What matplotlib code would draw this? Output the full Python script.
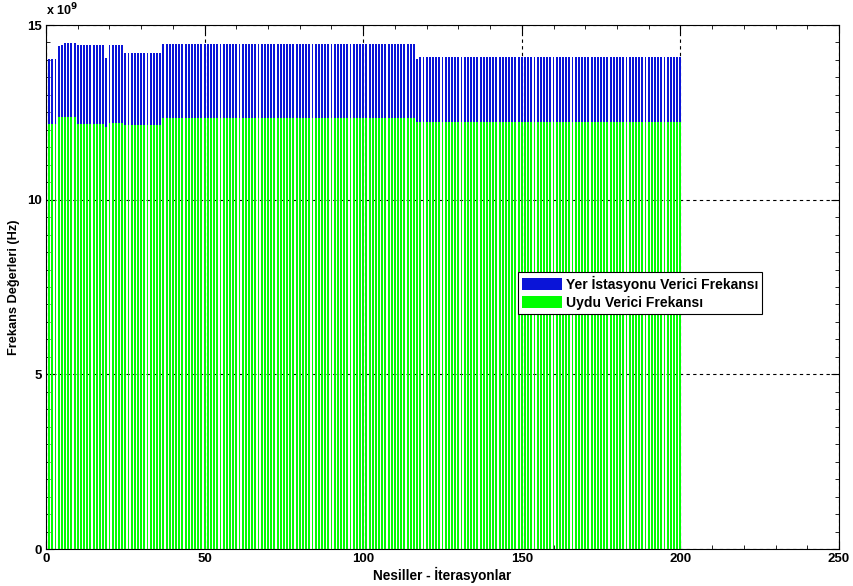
import numpy as np
import matplotlib
matplotlib.use("Agg")
import matplotlib.pyplot as plt
from matplotlib.ticker import MultipleLocator, FuncFormatter

# frequencies per iteration, in units of 1e9 Hz
yer_verici = [
    14.04, 14.04, 14.04, 14.40, 14.43, 14.48, 14.48, 14.48, 14.48, 14.43,
    14.43, 14.43, 14.43, 14.43, 14.43, 14.43, 14.43, 14.43, 14.05, 14.43,
    14.43, 14.43, 14.43, 14.43, 14.20, 14.20, 14.20, 14.20, 14.20, 14.20,
    14.20, 14.20, 14.20, 14.20, 14.20, 14.20, 14.46, 14.46, 14.46, 14.46,
    14.46, 14.46, 14.46, 14.46, 14.46, 14.46, 14.46, 14.46, 14.46, 14.46,
    14.46, 14.46, 14.46, 14.46, 14.46, 14.46, 14.46, 14.46, 14.46, 14.46,
    14.46, 14.46, 14.46, 14.46, 14.46, 14.46, 14.46, 14.46, 14.46, 14.46,
    14.46, 14.46, 14.46, 14.46, 14.46, 14.46, 14.46, 14.46, 14.46, 14.46,
    14.46, 14.46, 14.46, 14.46, 14.46, 14.46, 14.46, 14.46, 14.46, 14.46,
    14.46, 14.46, 14.46, 14.46, 14.46, 14.46, 14.46, 14.46, 14.46, 14.46,
    14.46, 14.46, 14.46, 14.46, 14.46, 14.46, 14.46, 14.46, 14.46, 14.46,
    14.46, 14.46, 14.46, 14.46, 14.46, 14.46, 14.04, 14.08, 14.08, 14.08,
    14.08, 14.08, 14.08, 14.08, 14.08, 14.08, 14.08, 14.08, 14.08, 14.08,
    14.08, 14.08, 14.08, 14.08, 14.08, 14.08, 14.08, 14.08, 14.08, 14.08,
    14.08, 14.08, 14.08, 14.08, 14.08, 14.08, 14.08, 14.08, 14.08, 14.08,
    14.08, 14.08, 14.08, 14.08, 14.08, 14.08, 14.08, 14.08, 14.08, 14.08,
    14.08, 14.08, 14.08, 14.08, 14.08, 14.08, 14.08, 14.08, 14.08, 14.08,
    14.08, 14.08, 14.08, 14.08, 14.08, 14.08, 14.08, 14.08, 14.08, 14.08,
    14.08, 14.08, 14.08, 14.08, 14.08, 14.08, 14.08, 14.08, 14.08, 14.08,
    14.08, 14.08, 14.08, 14.08, 14.08, 14.08, 14.08, 14.08, 14.08, 14.08,
]

uydu_verici = [
    12.17, 12.17, 12.17, 12.38, 12.38, 12.38, 12.38, 12.38, 12.38, 12.17,
    12.17, 12.17, 12.17, 12.17, 12.17, 12.17, 12.17, 12.17, 12.08, 12.20,
    12.20, 12.20, 12.20, 12.20, 12.13, 12.13, 12.13, 12.13, 12.13, 12.13,
    12.13, 12.13, 12.13, 12.13, 12.13, 12.13, 12.34, 12.34, 12.34, 12.34,
    12.34, 12.34, 12.34, 12.34, 12.34, 12.34, 12.34, 12.34, 12.34, 12.34,
    12.34, 12.34, 12.34, 12.34, 12.34, 12.34, 12.34, 12.34, 12.34, 12.34,
    12.34, 12.34, 12.34, 12.34, 12.34, 12.34, 12.34, 12.34, 12.34, 12.34,
    12.34, 12.34, 12.34, 12.34, 12.34, 12.34, 12.34, 12.34, 12.34, 12.34,
    12.34, 12.34, 12.34, 12.34, 12.34, 12.34, 12.34, 12.34, 12.34, 12.34,
    12.34, 12.34, 12.34, 12.34, 12.34, 12.34, 12.34, 12.34, 12.34, 12.34,
    12.34, 12.34, 12.34, 12.34, 12.34, 12.34, 12.34, 12.34, 12.34, 12.34,
    12.34, 12.34, 12.34, 12.34, 12.34, 12.34, 12.22, 12.22, 12.22, 12.22,
    12.22, 12.22, 12.22, 12.22, 12.22, 12.22, 12.22, 12.22, 12.22, 12.22,
    12.22, 12.22, 12.22, 12.22, 12.22, 12.22, 12.22, 12.22, 12.22, 12.22,
    12.22, 12.22, 12.22, 12.22, 12.22, 12.22, 12.22, 12.22, 12.22, 12.22,
    12.22, 12.22, 12.22, 12.22, 12.22, 12.22, 12.22, 12.22, 12.22, 12.22,
    12.22, 12.22, 12.22, 12.22, 12.22, 12.22, 12.22, 12.22, 12.22, 12.22,
    12.22, 12.22, 12.22, 12.22, 12.22, 12.22, 12.22, 12.22, 12.22, 12.22,
    12.22, 12.22, 12.22, 12.22, 12.22, 12.22, 12.22, 12.22, 12.22, 12.22,
    12.22, 12.22, 12.22, 12.22, 12.22, 12.22, 12.22, 12.22, 12.22, 12.22,
]

iterasyon = np.arange(1, len(yer_verici) + 1)

plt.rcParams["font.family"] = ["Liberation Sans", "DejaVu Sans"]
plt.rcParams["font.weight"] = "bold"
plt.rcParams["font.size"] = 8

fig = plt.figure(figsize=(8.54, 5.86), dpi=100)
ax = fig.add_axes([0.0539, 0.0631, 0.9285, 0.8942])

ax.set_axisbelow(True)
ax.grid(True, which="major", color="black", linestyle=(0, (3, 3)), linewidth=0.8)

# pixel-snapped bars so the white gaps stay crisp
ax.bar(iterasyon, yer_verici, width=0.6, color="#0a14d8", linewidth=0,
       antialiased=False, label="Yer İstasyonu Verici Frekansı")
ax.bar(iterasyon, uydu_verici, width=0.6, color="#00ff00", linewidth=0,
       antialiased=False, label="Uydu Verici Frekansı")

ax.set_xlim(0, 250)
ax.set_ylim(0, 15)
ax.xaxis.set_major_locator(MultipleLocator(50))
ax.xaxis.set_minor_locator(MultipleLocator(10))
ax.yaxis.set_major_locator(MultipleLocator(5))
ax.yaxis.set_minor_locator(MultipleLocator(0.5))
ax.yaxis.set_major_formatter(FuncFormatter(lambda v, p: "%d" % v))
ax.tick_params(which="both", direction="in", top=True, right=True)
ax.tick_params(which="major", length=6, width=0.8, labelsize=9.5, pad=3)
ax.tick_params(which="minor", length=3, width=0.6)
for s in ax.spines.values():
    s.set_linewidth(0.8)

ax.set_xlabel("Nesiller - İterasyonlar", fontsize=9.8, fontweight="bold", labelpad=1)
ax.set_ylabel("Frekans Değerleri (Hz)", fontsize=9.2, fontweight="bold", labelpad=5)
ax.text(0.0, 1.012, r"x 10$^9$", transform=ax.transAxes, fontsize=9,
        fontweight="bold", ha="left", va="bottom")

leg = ax.legend(loc="upper left", bbox_to_anchor=(0.595, 0.529), fancybox=False,
                framealpha=1, edgecolor="black", borderaxespad=0, handlelength=2.9,
                handleheight=0.95, handletextpad=0.25, borderpad=0.3,
                labelspacing=0.3, prop={"weight": "bold", "size": 10})
leg.get_frame().set_linewidth(0.8)

fig.savefig("out.png", dpi=100)
